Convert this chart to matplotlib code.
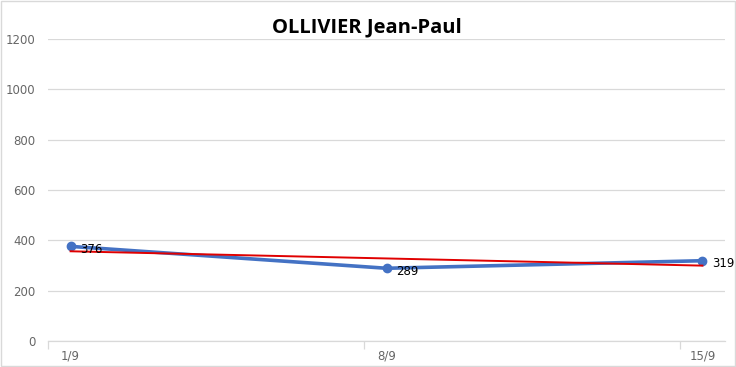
import numpy as np
import matplotlib.pyplot as plt
from matplotlib.patches import Rectangle

# donnees
jours = [0, 7, 14]
etiquettes = ["1/9", "8/9", "15/9"]
valeurs = [376, 289, 319]
titre = "OLLIVIER Jean-Paul"

fig = plt.figure(figsize=(7.36, 3.67), dpi=100)
ax = fig.add_axes([48/736, 1-341/367, (725-48)/736, (341-39)/367])

# courbe principale
ax.plot(jours, valeurs, color="#4472C4", lw=2.6, marker="o", ms=6, zorder=3,
        solid_capstyle="round")

# courbe de tendance lineaire
a, b = np.polyfit(jours, valeurs, 1)
xt = np.array([jours[0], jours[-1]])
ax.plot(xt, a*xt + b, color="#E00000", lw=1.4, zorder=4)

# etiquettes des points
for x, v in zip(jours, valeurs):
    ax.annotate(str(v), (x, v), xytext=(7, -2), textcoords="offset points",
                ha="left", va="center", fontsize=8.5, color="#000000",
                family="DejaVu Sans", zorder=5)

ax.set_xlim(-0.5, 14.5)
ax.set_ylim(0, 1200)
ax.set_yticks(range(0, 1201, 200))
ax.set_xticks(jours)
ax.set_xticklabels(etiquettes)
ax.set_xticks([-0.5, 6.5, 13.5], minor=True)
ax.grid(axis="y", color="#D9D9D9", lw=0.9)
ax.set_axisbelow(True)
for s in ["top", "right", "left"]:
    ax.spines[s].set_visible(False)
ax.spines["bottom"].set_color("#D9D9D9")
ax.spines["bottom"].set_linewidth(0.9)
ax.tick_params(axis="y", length=0, pad=9, labelsize=8.5, labelcolor="#666666")
ax.tick_params(axis="x", which="major", length=0, pad=6, labelsize=8.5, labelcolor="#666666")
ax.tick_params(axis="x", which="minor", length=6, color="#D9D9D9", width=0.9)
for t in ax.get_yticklabels() + ax.get_xticklabels():
    t.set_family("DejaVu Sans")

fig.text(367/736, 1-27/367, titre, ha="center", va="center", fontsize=14.5,
         fontweight="bold", family="Open Sans")

# bordure du graphique
fig.patches.append(Rectangle((0.001, 0.002), 0.997, 0.995, transform=fig.transFigure,
                             fill=False, edgecolor="#D9D9D9", lw=1))

fig.savefig("out.png", dpi=100)
